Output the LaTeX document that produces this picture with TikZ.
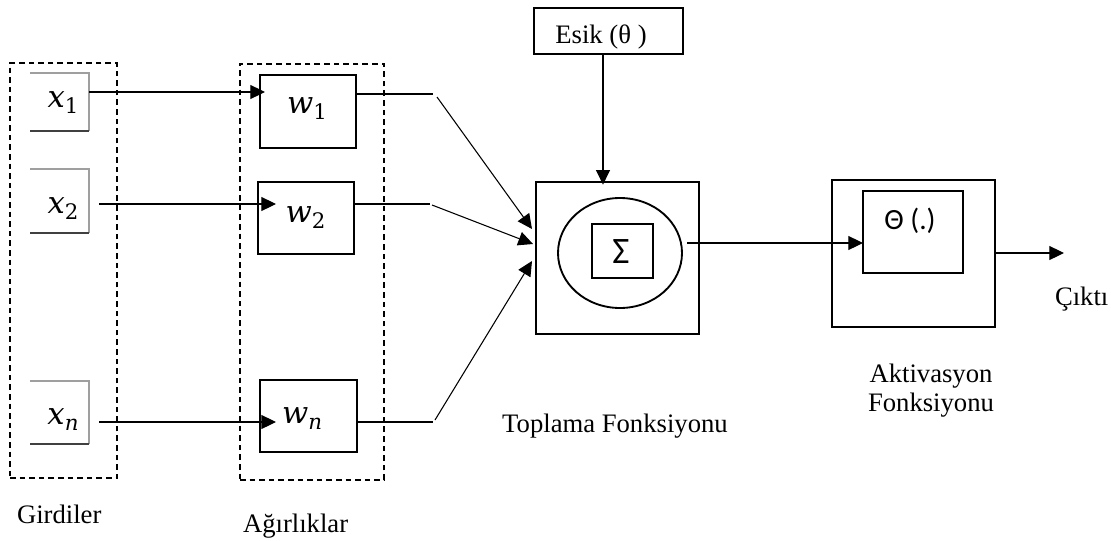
\documentclass[tikz,border=0pt]{standalone}
\usepackage{fontspec}
\setmainfont{Liberation Serif}
\newfontfamily\calfont{Carlito}
\newfontfamily\varfont{DejaVu Serif}
\usetikzlibrary{arrows.meta,fit,shapes.geometric}
% an italic symbol with a lowered, smaller subscript
\newcommand\symsub[2]{{\varfont\itshape #1}\raisebox{-5pt}{\varfont\fontsize{16}{17}\selectfont\itshape #2}}
\newcommand\symnum[2]{{\varfont\itshape #1}\raisebox{-5pt}{\varfont\fontsize{16}{17}\selectfont #2}}

\begin{document}
\begin{tikzpicture}[x=0.75pt,y=-0.75pt,
  every node/.style={inner sep=0pt,outer sep=0pt},
  conn/.style={line width=0.8pt},
  arr/.style={conn,-{Triangle[length=11pt,width=10.5pt]}},
  group/.style={draw,line width=1.4pt,dash pattern=on 4.2pt off 3pt},
  wbox/.style={draw,line width=1pt},
  bigbox/.style={draw,line width=1.4pt},
  lbl/.style={font=\fontsize{20}{21.75}\selectfont},
  sym/.style={font=\fontsize{23}{25}\selectfont},
  sanslbl/.style={font=\calfont\fontsize{22}{24}\selectfont}]
\useasboundingbox (0,0) rectangle (1111,540);

% dashed groups: inputs and weights
\node[group,fit={(10,63)(117,478)}] (ingroup) {};
\node[group,fit={(240,64)(384,480)}] (wgroup) {};

% input frames (open on the left)
\node[fit={(30,73)(89,131)}] (x1) {};
\node[fit={(30,169)(89,233)}] (x2) {};
\node[fit={(30,381)(89,444)}] (xn) {};
\foreach \b in {x1,x2,xn}{
  \draw[line width=0.9pt,gray!75] (\b.north west) -- (\b.north east) -- (\b.south east);
  \draw[line width=0.9pt,black!75] (\b.south east) -- (\b.south west);
}
\node[sym,anchor=base] (x1t) at (63,107) {\symnum{x}{1}};
\node[sym,anchor=base] (x2t) at (63,213) {\symnum{x}{2}};
\node[sym,anchor=base] (xnt) at (63,424) {\symsub{x}{n}};

% weight boxes
\node[wbox,fit={(260,75)(356,148)}] (w1) {};
\node[wbox,fit={(258,182)(354,254)}] (w2) {};
\node[wbox,fit={(260,380)(357,452)}] (wn) {};
\node[sym,anchor=base] (w1t) at (307,113) {\symnum{w}{1}};
\node[sym,anchor=base] (w2t) at (305.5,222) {\symnum{w}{2}};
\node[sym,anchor=base] (wnt) at (302,423) {\symsub{w}{n}};

% summation unit
\node[bigbox,fit={(536,182)(699,334)}] (sumbox) {};
\node[draw,line width=1.4pt,ellipse,minimum width=93pt,minimum height=82.5pt] (sumell) at (620,253) {};
\node[draw,line width=1.1pt,fit={(592,224)(653,278)}] (sigbox) {};
\node[font=\calfont\fontsize{28}{30}\selectfont] (sig) at (621,252) {Σ};

% threshold
\node[bigbox,line width=1.2pt,fit={(534,8)(683,54)}] (esik) {};
\node[lbl,anchor=base] (esikt) at (601,43) {Esik (θ )};

% activation unit
\node[bigbox,fit={(832,180)(995,327)}] (act) {};
\node[wbox,line width=1.1pt,fit={(863,191)(963,273)}] (actin) {};
\node[sanslbl,anchor=base] (actt) at (910,229) {Θ (.)};

% connector end points
\coordinate (w1in) at (265,92);
\coordinate (w2in) at (276,204);
\coordinate (wnin) at (276,422);
\coordinate (w1mid) at (433,94);
\coordinate (w2mid) at (430,204);
\coordinate (wnmid) at (433,422);
\coordinate (d1s) at (437,97);
\coordinate (d2s) at (432,205);
\coordinate (dns) at (435,420);
\coordinate (d1e) at (532,229);
\coordinate (d2e) at (533,244);
\coordinate (dne) at (532,261);
\coordinate (sumout) at (687,243);
\coordinate (outend) at (1064,253);

% inputs to weights
\draw[arr] (x1.east |- w1in) -- (w1in);
\draw[arr] ([xshift=7.5pt]x2.east |- w2in) -- (w2in);
\draw[arr] ([xshift=7.5pt]xn.east |- wnin) -- (wnin);

% weights to summation
\draw[conn] (w1.east |- w1mid) -- (w1mid);
\draw[conn] (w2.east |- w2mid) -- (w2mid);
\draw[conn] (wn.east |- wnmid) -- (wnmid);
\draw[arr] (d1s) -- (d1e);
\draw[arr] (d2s) -- (d2e);
\draw[arr] (dns) -- (dne);

% threshold into summation
\draw[arr] (esik.south -| 603,0) -- ([yshift=-2pt]sumbox.north -| 603,0);

% summation to activation, activation to output
\draw[arr] (sumout) -- (actin.west |- sumout);
\draw[arr] (act.east |- outend) -- (outend);

% captions
\node[lbl,anchor=base west] (girdi) at (17,523) {Girdiler};
\node[lbl,anchor=base west] (agir) at (243,532) {Ağırlıklar};
\node[lbl,anchor=base] (topl) at (615,432) {Toplama Fonksiyonu};
\node[lbl,align=center] (aktiv) at (931,390.5) {Aktivasyon\\Fonksiyonu};
\node[lbl,anchor=base west] (cikti) at (1055,305) {Çıktı};
\end{tikzpicture}
\end{document}
